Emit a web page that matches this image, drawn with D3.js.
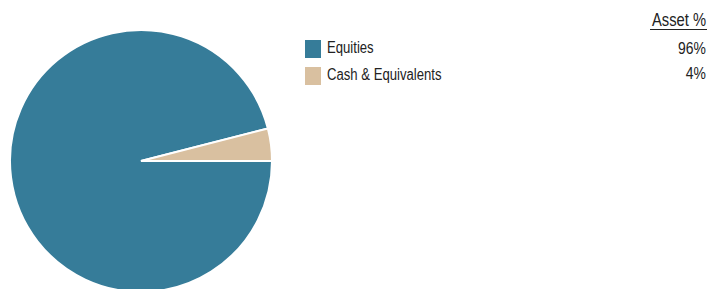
<!DOCTYPE html>
<html lang="en">
<head>
    <meta charset="UTF-8">
    <title>Asset Allocation</title>
    <script src="https://d3js.org/d3.v7.min.js"></script>
    <style>
        body { margin: 0; background: #fff; }
        text { font-family: "Liberation Sans", Arial, sans-serif; fill: #222; }
    </style>
</head>
<body>
    <div id="chart-container"></div>

    <script>
        const categories = ["Equities", "Cash & Equivalents"];
        const values = [96, 4];
        const labels = ["96%", "4%"];
        const colors = ["#367c99", "#d9c0a0"];

        const width = 709, height = 289;
        const cx = 141, cy = 161, radius = 131;
        const narrow = 0.82; // squeeze to look like a condensed face

        const svg = d3.select("#chart-container")
            .append("svg")
            .attr("width", width)
            .attr("height", height);

        const data = categories.map(function(c, i) {
            return { name: c, value: values[i], label: labels[i], color: colors[i] };
        });

        // pie, cash slice ends at 3 o'clock
        const pie = d3.pie()
            .value(function(d) { return d.value; })
            .sort(null)
            .startAngle(Math.PI / 2)
            .endAngle(Math.PI / 2 + 2 * Math.PI);

        const arc = d3.arc().innerRadius(0).outerRadius(radius);

        svg.append("g")
            .attr("transform", "translate(" + cx + "," + cy + ")")
            .selectAll("path")
            .data(pie(data))
            .enter().append("path")
            .attr("d", arc)
            .attr("fill", function(d) { return d.data.color; })
            .attr("stroke", "#fff")
            .attr("stroke-width", 2);

        // legend
        const y = d3.scaleBand()
            .domain(categories)
            .range([39, 93])
            .padding(0);

        const legend = svg.append("g");
        legend.selectAll("rect")
            .data(data)
            .enter().append("rect")
            .attr("x", 305)
            .attr("y", function(d) { return y(d.name) + 1; })
            .attr("width", 16)
            .attr("height", 18)
            .attr("fill", function(d) { return d.color; });

        legend.selectAll("text.name")
            .data(data)
            .enter().append("text")
            .attr("class", "name")
            .attr("transform", function(d) { return "translate(327," + (y(d.name) + 14) + ") scale(" + narrow + ",1)"; })
            .style("font-size", "16px")
            .text(function(d) { return d.name; });

        legend.selectAll("text.pct")
            .data(data)
            .enter().append("text")
            .attr("class", "pct")
            .attr("transform", function(d, i) { return "translate(706," + (y(d.name) + 15 - i * 2) + ") scale(" + narrow + ",1)"; })
            .attr("text-anchor", "end")
            .style("font-size", "17px")
            .text(function(d) { return d.label; });

        // header
        svg.append("text")
            .attr("transform", "translate(706,26) scale(" + narrow + ",1)")
            .attr("text-anchor", "end")
            .style("font-size", "18px")
            .text("Asset %");
        svg.append("line")
            .attr("x1", 650).attr("x2", 707)
            .attr("y1", 29.5).attr("y2", 29.5)
            .attr("stroke", "#222")
            .attr("stroke-width", 1.2);
    </script>
</body>
</html>
